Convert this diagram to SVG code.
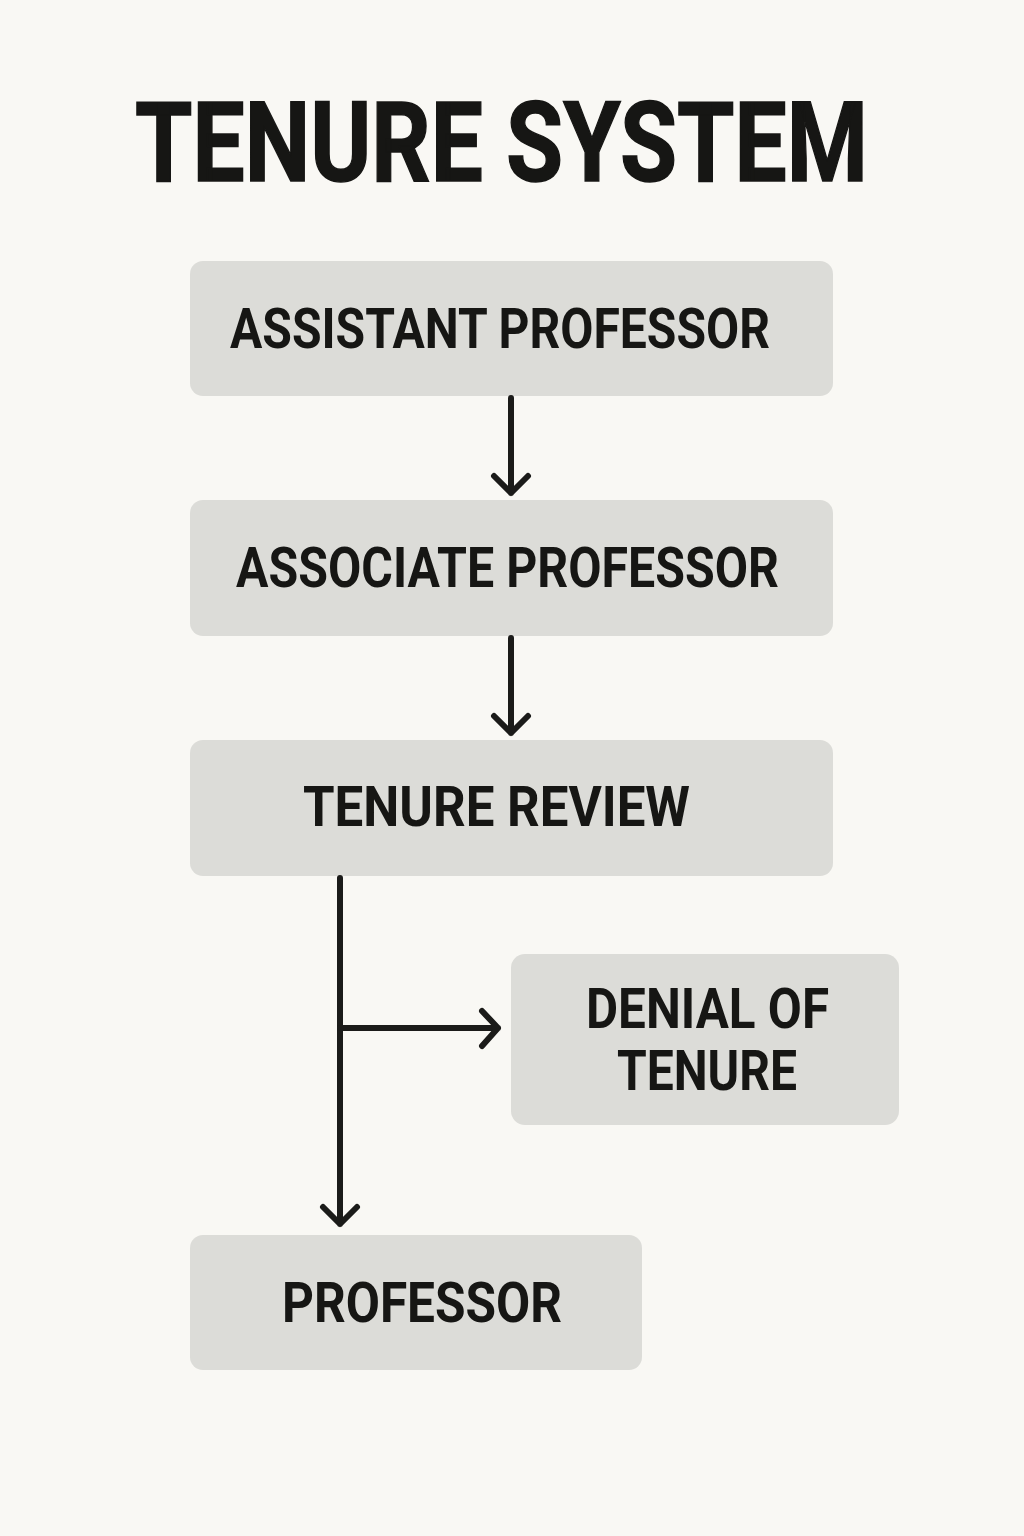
<svg xmlns="http://www.w3.org/2000/svg" width="1024" height="1536" viewBox="0 0 1024 1536">
<style>
.box{fill:#dcdcd8;}
.t{font-family:Roboto,"Liberation Sans",sans-serif;font-weight:700;fill:#161614;}
.lbl{font-size:56px;}
.ln{fill:none;stroke:#1b1b19;stroke-width:6;stroke-linecap:round;stroke-linejoin:round;}
</style>
<rect width="1024" height="1536" fill="#f9f8f4"/>
<text class="t" x="135" y="181" font-size="112" textLength="733" lengthAdjust="spacingAndGlyphs" stroke="#161614" stroke-width="1.5">TENURE SYSTEM</text>
<g id="assistant">
<rect class="box" x="190" y="261" width="643" height="135" rx="13"/>
<text class="t lbl" x="230" y="348" textLength="540" lengthAdjust="spacingAndGlyphs">ASSISTANT PROFESSOR</text>
</g>
<g id="associate">
<rect class="box" x="190" y="500" width="643" height="136" rx="13"/>
<text class="t lbl" x="236" y="587" textLength="543" lengthAdjust="spacingAndGlyphs">ASSOCIATE PROFESSOR</text>
</g>
<g id="review">
<rect class="box" x="190" y="740" width="643" height="136" rx="13"/>
<text class="t lbl" x="303" y="826" textLength="387" lengthAdjust="spacingAndGlyphs">TENURE REVIEW</text>
</g>
<g id="denial">
<rect class="box" x="511" y="954" width="388" height="171" rx="14"/>
<text class="t lbl" x="586" y="1028" textLength="243" lengthAdjust="spacingAndGlyphs">DENIAL OF</text>
<text class="t lbl" x="617" y="1090" textLength="180" lengthAdjust="spacingAndGlyphs">TENURE</text>
</g>
<g id="professor">
<rect class="box" x="190" y="1235" width="452" height="135" rx="13"/>
<text class="t lbl" x="282" y="1322" textLength="280" lengthAdjust="spacingAndGlyphs">PROFESSOR</text>
</g>
<g id="connectors">
<path class="ln" d="M511 398 V493 M494 476 L511 493 L528 476"/>
<path class="ln" d="M511 638 V733 M494 716 L511 733 L528 716"/>
<path class="ln" d="M340 878 V1224 M323 1207 L340 1224 L357 1207"/>
<path class="ln" d="M340 1028 H498 M482 1011 L498 1028 L482 1046"/>
</g>
</svg>
